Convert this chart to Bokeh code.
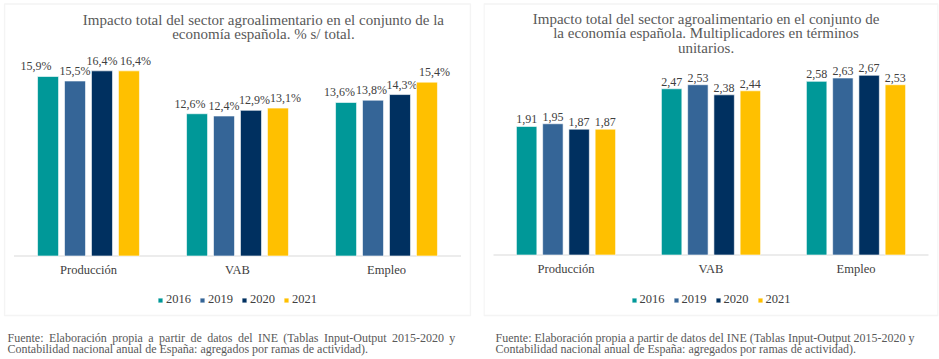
from bokeh.plotting import figure
from bokeh.models import FactorRange, Range1d, Label, Legend, ColumnDataSource, BoxAnnotation
from bokeh.transform import dodge
from bokeh.layouts import row
from bokeh.embed import file_html
from bokeh.resources import INLINE
from bokeh.core.properties import value

categories = ["Producción", "VAB", "Empleo"]
years = ["2016", "2019", "2020", "2021"]
colors = ["#009898", "#356597", "#003060", "#FFC000"]

pct_2016 = [15.9, 12.6, 13.6]
pct_2019 = [15.5, 12.4, 13.8]
pct_2020 = [16.4, 12.9, 14.3]
pct_2021 = [16.4, 13.1, 15.4]

mult_2016 = [1.91, 2.47, 2.58]
mult_2019 = [1.95, 2.53, 2.63]
mult_2020 = [1.87, 2.38, 2.67]
mult_2021 = [1.87, 2.44, 2.53]

title_left = ["Impacto total del sector agroalimentario en el conjunto de la",
              "economía española. % s/ total."]
title_right = ["Impacto total del sector agroalimentario en el conjunto de",
               "la economía española. Multiplicadores en términos",
               "unitarios."]
source_left = ["Fuente: Elaboración propia a partir de datos del INE (Tablas Input-Output 2015-2020 y",
               "Contabilidad nacional anual de España: agregados por ramas de actividad)."]
source_right = ["Fuente: Elaboración propia a partir de datos del INE (Tablas Input-Output 2015-2020 y",
                "Contabilidad nacional anual de España: agregados por ramas de actividad)."]

# label placement nudges (pixels), style only
nudge_left = [[-12, -7, -6.5], [0, 0, -1.5], [0, 3.5, 2], [6.5, 7.5, 7.5]]
nudge_right = [[0, 0, 0], [0, 0, 0], [0, 0, 0], [0, 0, 0]]

SERIF = "Liberation Serif"
H = 357


def fmt(v, dec, suffix):
    return (f"{v:.{dec}f}").replace(".", ",") + suffix


def panel(series, dec, suffix, nudges, ppu, base, width, mb_left, mb_right, cat_px, pad_px, box_px,
          titles, title_x, title_y0, title_step, notes, note_dx, justify_first):
    top = 2
    yr = (-(H - base) / ppu, (base - top) / ppu)
    pad = pad_px / cat_px
    p = figure(x_range=FactorRange(*categories, range_padding=pad, range_padding_units="absolute"),
               y_range=Range1d(*yr), width=width, height=H,
               output_backend="svg", toolbar_location=None,
               min_border_left=mb_left, min_border_right=mb_right, min_border_top=top,
               min_border_bottom=0)
    p.xaxis.visible = False
    p.yaxis.visible = False
    p.grid.visible = False
    p.outline_line_color = None
    p.background_fill_color = "white"
    p.border_fill_color = "white"

    box_bottom = -(315 - base) / ppu
    p.add_layout(BoxAnnotation(left=-box_px / cat_px, right=len(categories) + box_px / cat_px,
                               top=(base - 3.5) / ppu, bottom=box_bottom,
                               fill_alpha=0, line_color="#D9D9D9", line_width=1.5))

    data = {"cat": categories}
    for y, s, n in zip(years, series, nudges):
        data[y] = s
        data[y + "_lbl"] = [fmt(v, dec, suffix) for v in s]
        data[y + "_dx"] = n
    src = ColumnDataSource(data)

    # baseline
    p.line(x=[0, len(categories)], y=[0, 0], line_color="#D9D9D9", line_width=1.2)

    pitch = 0.181
    items = []
    for i, (y, c) in enumerate(zip(years, colors)):
        off = (i - 1.5) * pitch
        r = p.vbar(x=dodge("cat", off, range=p.x_range), top=y, bottom=0, width=0.141,
                   source=src, fill_color=c, line_color="white", line_width=0.6)
        items.append((y, [r]))
        p.text(x=dodge("cat", off, range=p.x_range), y=y, text=y + "_lbl", source=src,
               x_offset=y + "_dx",
               text_align="center", text_baseline="bottom", y_offset=-3,
               text_font=value(SERIF), text_font_size="12px", text_color="#404040")

    p.text(x="cat", y=0, text="cat", source=src, y_offset=14, text_align="center",
           text_baseline="middle", text_font=value(SERIF), text_font_size="12.5px",
           text_color="#404040")

    for k, t in enumerate(titles):
        p.add_layout(Label(x=title_x, y=yr[1], y_offset=-(title_y0 - top + title_step * k), text=t,
                           text_align="center", text_baseline="middle",
                           text_font=SERIF, text_font_size="15px", text_color="#595959"))

    leg = Legend(items=items, orientation="horizontal", location="bottom_center",
                 glyph_width=6, glyph_height=6, label_standoff=3, spacing=8,
                 label_text_font=SERIF, label_text_font_size="12.5px", label_text_color="#404040",
                 border_line_color=None, background_fill_alpha=0, padding=0, margin=50,
                 label_height=14)
    p.add_layout(leg, "center")

    for k, t in enumerate(notes):
        txt = t
        if k == 0 and justify_first:
            txt = t.replace(" ", " \u2009")
        p.add_layout(Label(x=-pad, y=box_bottom, x_offset=note_dx, y_offset=-(22 + 11 * k), text=txt,
                           text_align="left", text_baseline="middle",
                           text_font=SERIF, text_font_size="12px", text_color="#595959"))
    return p


left = panel([pct_2016, pct_2019, pct_2020, pct_2021], 1, "%", nudge_left, 11.29, 255.5, 483, 3, 12,
             149, 10.5, 9.5, title_left, 1.674, 19, 14, source_left, 4, True)

right = panel([mult_2016, mult_2019, mult_2020, mult_2021], 2, "", nudge_right, 67.3, 254.5, 456, 0, 1,
              145, 10, 9.5, title_right, 1.466, 18, 14.5, source_right, 12, False)

layout = row(left, right)
open("out.html", "w").write(file_html(layout, INLINE))
